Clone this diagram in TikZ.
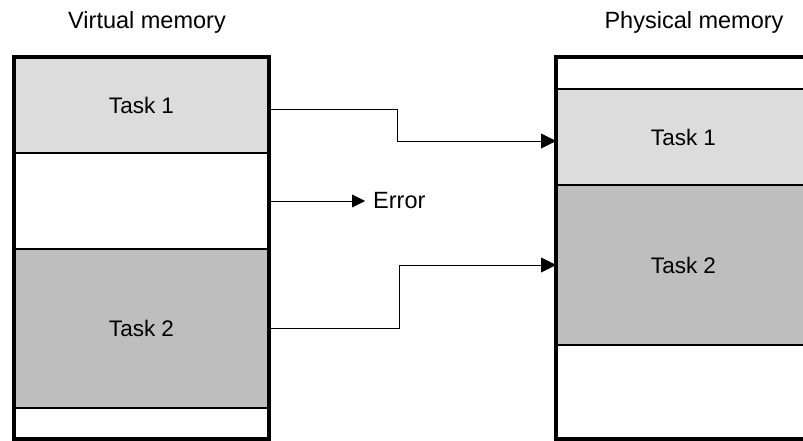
\documentclass[tikz,border=0pt]{standalone}
\usepackage{fontspec}
\setmainfont{Liberation Sans}
\usetikzlibrary{positioning,arrows.meta}
\definecolor{taskone}{gray}{0.863}
\definecolor{tasktwo}{gray}{0.745}
\tikzset{
  seg/.style={draw,line width=1.5pt,minimum width=255pt,inner sep=0pt,outer sep=0pt,font=\fontsize{22.5}{26}\selectfont},
  frame/.style={line width=3.2pt},
  link/.style={line width=0.8pt,-{Triangle[length=15pt,width=15pt]}},
  head/.style={font=\fontsize{23.5}{28}\selectfont,inner sep=0pt}
}

\begin{document}
\begin{tikzpicture}[x=1pt,y=-1pt]
\path[use as bounding box] (0,0) rectangle (803,441);
\clip (0,0) rectangle (803,441);

\node(V1)[seg,fill=taskone,minimum height=96pt] at (141.5,105) {Task 1};
\node(V2)[seg,minimum height=96pt,below=0pt of V1] {};
\node(V3)[seg,fill=tasktwo,minimum height=159pt,below=0pt of V2] {Task 2};
\node(V4)[seg,minimum height=31pt,below=0pt of V3] {};
\draw[frame] (V1.north west) rectangle (V4.south east);

\node(P1)[seg,minimum height=32pt] at (683.5,73) {};
\node(P2)[seg,fill=taskone,minimum height=96pt,below=0pt of P1] {Task 1};
\node(P3)[seg,fill=tasktwo,minimum height=160pt,below=0pt of P2] {Task 2};
\node(P4)[seg,minimum height=94pt,below=0pt of P3] {};
\draw[frame] (P1.north west) rectangle (P4.south east);

\node(vhead)[head,above=28.5pt of V1.north,anchor=base,xshift=5.5pt] {Virtual memory};
\node(phead)[head,above=28.5pt of P1.north,anchor=base,xshift=10.5pt] {Physical memory};

\node(err)[head,inner xsep=8pt,right=96pt of V2.east,anchor=west] {Error};

\draw[link] ([yshift=-4pt]V1.east) -- ++(128,0) |- ([yshift=-4pt]P2.west);
\draw[link] (V3.east) -- ++(130,0) |- (P3.west);
\draw[link,-{Triangle[length=13pt,width=13pt]}] (V2.east) -- (err.west);
\end{tikzpicture}
\end{document}
